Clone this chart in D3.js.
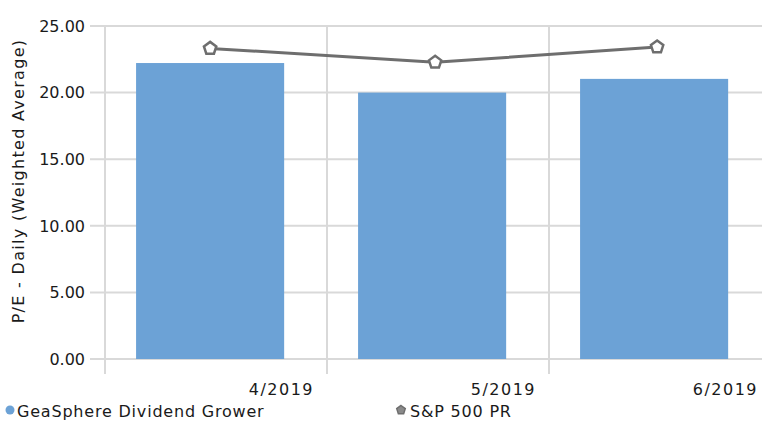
<!DOCTYPE html>
<html><head><meta charset="utf-8">
<script src="https://cdn.jsdelivr.net/npm/d3@7/dist/d3.min.js"></script>
<style>body{margin:0;background:#fff}svg{display:block}text{font-family:"DejaVu Sans",sans-serif;fill:#1a1a1a}</style>
</head><body><svg id="c" width="762" height="422"></svg>
<script>
const categories = ["4/2019","5/2019","6/2019"];
const fundValues = [22.22, 20.0, 21.03];
const indexValues = [23.32, 22.27, 23.42];
const yTicks = [0,5,10,15,20,25];
const seriesNames = ["GeaSphere Dividend Grower","S&P 500 PR"];

const svg = d3.select("#c");
const xb = d3.scaleBand().domain(categories).range([105, 771]);
const bx = d => xb(d) + xb.bandwidth()*0.14;
const bw = xb.bandwidth()*0.667;
const y = d3.scaleLinear().domain([0,25]).range([359, 26]);

// horizontal grid
svg.append("g").selectAll("line").data(yTicks).join("line")
  .attr("x1", 90).attr("x2", 762).attr("y1", d=>y(d)).attr("y2", d=>y(d))
  .attr("stroke", "#d9d9d9").attr("stroke-width", 2);
// vertical grid
svg.append("g").selectAll("line").data(categories).join("line")
  .attr("x1", d=>xb(d)).attr("x2", d=>xb(d)).attr("y1", y(25)).attr("y2", 374)
  .attr("stroke", "#d9d9d9").attr("stroke-width", 2);

// y labels
svg.append("g").selectAll("text").data(yTicks).join("text")
  .attr("x", 85).attr("y", d=>y(d)).attr("dy","0.36em").attr("text-anchor","end")
  .attr("font-size", 16).text(d=>d3.format(".2f")(d));

// x labels
svg.append("g").selectAll("text").data(categories).join("text")
  .attr("x", d=>xb(d)+xb.bandwidth()-13).attr("y", 395).attr("text-anchor","end")
  .attr("font-size", 16).attr("letter-spacing", 1.5).text(d=>d);

// bars
svg.append("g").selectAll("rect").data(categories).join("rect")
  .attr("x", d=>bx(d)).attr("width", bw)
  .attr("y", (d,i)=>y(fundValues[i])).attr("height", (d,i)=>y(0)-y(fundValues[i]))
  .attr("fill", "#6ca2d6");

// line
const px = i => bx(categories[i]) + bw/2 + (i>0?3:0);
const line = d3.line().x((d,i)=>px(i)).y(d=>y(d));
svg.append("path").datum(indexValues).attr("d", line).attr("fill","none")
  .attr("stroke","#6e6e6e").attr("stroke-width",3);

function pent(r){
  const pts=[];
  for(let k=0;k<5;k++){const a=-Math.PI/2+k*2*Math.PI/5;pts.push([r*Math.cos(a),r*Math.sin(a)]);}
  return "M"+pts.map(p=>p.join(",")).join("L")+"Z";
}
svg.append("g").selectAll("path").data(indexValues).join("path")
  .attr("transform",(d,i)=>`translate(${px(i)},${y(d)})`)
  .attr("d", pent(6.5)).attr("fill","#fff").attr("stroke","#6e6e6e").attr("stroke-width",2.5);

// y title
svg.append("text").attr("transform","translate(24,181) rotate(-90)")
  .attr("text-anchor","middle").attr("font-size",16).attr("letter-spacing",1.3)
  .text("P/E - Daily (Weighted Average)");

// legend
const lg = svg.append("g");
lg.append("circle").attr("cx",10).attr("cy",410).attr("r",4.5).attr("fill","#6ca2d6");
lg.append("text").attr("x",17).attr("y",417).attr("font-size",16).attr("letter-spacing",0.8).text(seriesNames[0]);
lg.append("path").attr("transform","translate(401,410)").attr("d",pent(4.5))
  .attr("fill","#8a8a8a").attr("stroke","#6e6e6e").attr("stroke-width",1.5);
lg.append("text").attr("x",410).attr("y",417).attr("font-size",16).attr("letter-spacing",0.8).text(seriesNames[1]);
</script></body></html>
